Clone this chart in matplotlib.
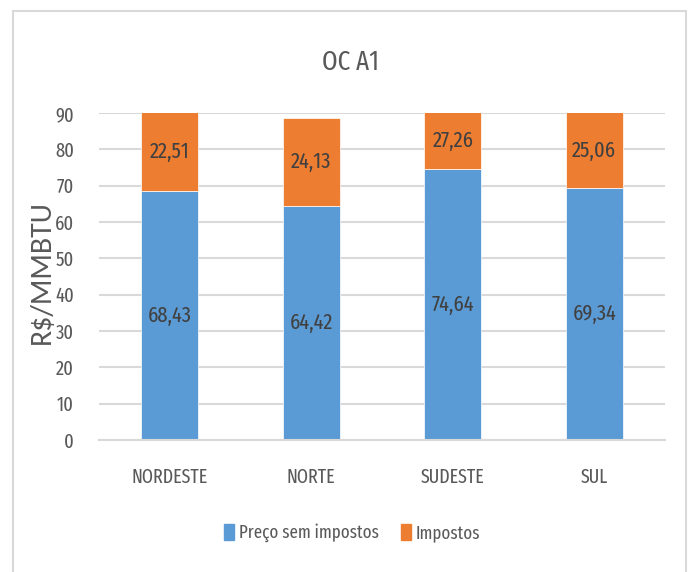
import matplotlib
matplotlib.use("Agg")
import matplotlib.pyplot as plt
from matplotlib import font_manager
from matplotlib.patches import Rectangle, Patch

categories = ["NORDESTE", "NORTE", "SUDESTE", "SUL"]
preco_sem_impostos = [68.43, 64.42, 74.64, 69.34]
impostos = [22.51, 24.13, 27.26, 25.06]
labels_preco = ["68,43", "64,42", "74,64", "69,34"]
labels_impostos = ["22,51", "24,13", "27,26", "25,06"]
yticks = [0, 10, 20, 30, 40, 50, 60, 70, 80, 90]

names = {f.name for f in font_manager.fontManager.ttflist}
def pick(prefs):
    for p in prefs:
        if p in names:
            return p
    return "DejaVu Sans"
NARROW = pick(["Fira Sans Extra Condensed", "Sofia Sans Extra Condensed", "Roboto Condensed", "DejaVu Sans"])
WIDE = pick(["Carlito", "DejaVu Sans"])

BLUE = "#5B9BD5"
ORANGE = "#ED7D31"
TXT = "#595959"
LBL = "#404040"
YMAX = 90

fig = plt.figure(figsize=(6.89, 5.72), dpi=100)
fig.patches.append(Rectangle((13/689, 1 - 575/572), (686-13)/689, (575-11)/572,
                             transform=fig.transFigure, fill=False,
                             edgecolor="#D9D9D9", linewidth=1.5))
ax = fig.add_axes([99/689, 1 - 440/572, (665-99)/689, (440-113)/572])

x = list(range(len(categories)))
ax.bar(x, preco_sem_impostos, width=0.4, color=BLUE, edgecolor="white", linewidth=0.5, zorder=2)
ax.bar(x, impostos, width=0.4, bottom=preco_sem_impostos, color=ORANGE, edgecolor="white", linewidth=0.5, zorder=2)

for i in x:
    b = preco_sem_impostos[i]
    t = min(b + impostos[i], YMAX)
    ax.text(i, b / 2, labels_preco[i], ha="center", va="center", color=LBL,
            fontsize=16, family=NARROW, zorder=3)
    ax.text(i, (b + t) / 2, labels_impostos[i], ha="center", va="center", color=LBL,
            fontsize=16, family=NARROW, zorder=3)

ax.set_ylim(0, YMAX)
ax.set_xlim(-0.5, len(categories) - 0.5)
ax.set_yticks(yticks)
ax.set_xticks(x)
ax.set_xticklabels(categories)
ax.yaxis.grid(True, color="#D9D9D9", linewidth=1.5, zorder=0)
ax.set_axisbelow(True)
for s in ["top", "right", "left"]:
    ax.spines[s].set_visible(False)
ax.spines["bottom"].set_color("#D9D9D9")
ax.spines["bottom"].set_linewidth(1.5)
ax.tick_params(axis="both", length=0, colors=TXT)
ax.tick_params(axis="x", pad=20, labelsize=14)
ax.tick_params(axis="y", pad=18, labelsize=14.5)
for lab in ax.get_xticklabels() + ax.get_yticklabels():
    lab.set_family(NARROW)

ax.set_ylabel("R$/MMBTU", color=TXT, fontsize=21.5, family=WIDE)
ax.yaxis.set_label_coords(-44/566, 0.5 - (272.5 - 276.5) / 327)

fig.text(350/689, 1 - 62/572, "OC A1", ha="center", va="center",
         fontsize=19.5, color=TXT, family=NARROW)

handles = [Patch(color=BLUE, label="Preço sem impostos"), Patch(color=ORANGE, label="Impostos")]
leg = fig.legend(handles=handles, loc="center", bbox_to_anchor=(352/689, 1 - 533/572),
                 ncol=2, frameon=False, handlelength=0.55, handleheight=0.95,
                 handletextpad=0.25, columnspacing=1.2, borderaxespad=0,
                 prop={"family": NARROW, "size": 13.2})
for t in leg.get_texts():
    t.set_color(TXT)

fig.savefig("out.png", dpi=100)
